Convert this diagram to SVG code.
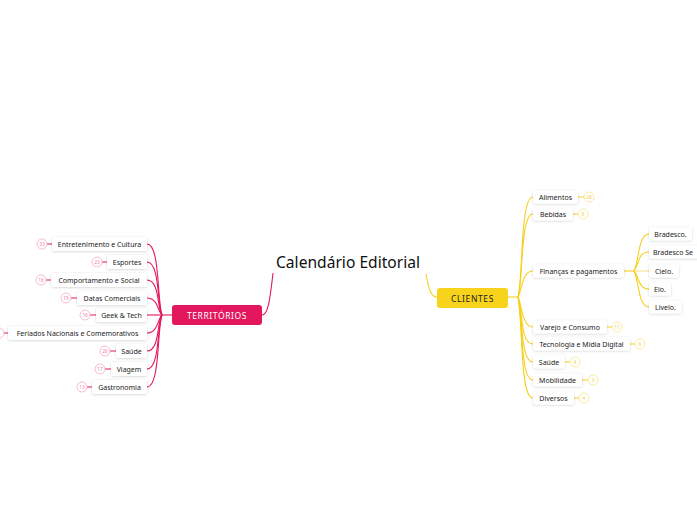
<svg xmlns="http://www.w3.org/2000/svg" width="697" height="520" viewBox="0 0 697 520">
<style>
.bg{fill:#ffffff}
.node rect{fill:#ffffff;filter:url(#sh)}
.lbl{font-family:"Noto Sans","Liberation Sans",sans-serif;font-size:7px;fill:#222;text-anchor:middle;dominant-baseline:central}
.pk{stroke:#e3175d;fill:none;stroke-width:1.1}
.yl{stroke:#f6cf1a;fill:none;stroke-width:1.1}
.bp{fill:#fff;stroke:#f7a9c4;stroke-width:0.8}
.by{fill:#fff;stroke:#fbe38a;stroke-width:0.8}
.nump{font-family:"Noto Sans","Liberation Sans",sans-serif;font-size:5px;fill:#f27fa7;text-anchor:middle;dominant-baseline:central}
.numy{font-family:"Noto Sans","Liberation Sans",sans-serif;font-size:5px;fill:#f3cf50;text-anchor:middle;dominant-baseline:central}
</style>
<defs>
<filter id="sh" x="-20%" y="-40%" width="140%" height="180%">
<feDropShadow dx="0" dy="0.6" stdDeviation="0.8" flood-color="#000" flood-opacity="0.18"/>
</filter>
</defs>
<rect class="bg" width="697" height="520"/>

<g id="connectors">
<path class="pk" d="M273,273 C270,300 268,315 262,315"/>
<path class="yl" d="M426,274 C429,290 431,297 437,297"/>
<path class="pk" d="M172,315 L162,315"/>
<path class="pk" d="M162,315 C157,300 160,244 147,244"/>
<path class="pk" d="M162,315 C157,305 160,262 147,262"/>
<path class="pk" d="M162,315 C157,310 160,280 147,280"/>
<path class="pk" d="M162,315 C158,312 158,298 147,298"/>
<path class="pk" d="M162,315 L147,315"/>
<path class="pk" d="M162,315 C158,318 158,333 147,333"/>
<path class="pk" d="M162,315 C157,320 160,351 147,351"/>
<path class="pk" d="M162,315 C157,325 160,369 147,369"/>
<path class="pk" d="M162,315 C157,330 160,387 147,387"/>
<path class="pk" d="M47,244 H52 M102,262 H107 M46,280 H51 M71,298 H77 M90,315 H96 M4,333 H8 M110,351 H116 M105,369 H111 M87,387 H92"/>

<path class="yl" d="M508,297 L518,297"/>
<path class="yl" d="M518,297 C523,280 520,197 533,197"/>
<path class="yl" d="M518,297 C523,285 520,214 533,214"/>
<path class="yl" d="M518,297 C522,290 522,271 533,271"/>
<path class="yl" d="M518,297 C522,305 522,327 533,327"/>
<path class="yl" d="M518,297 C523,310 520,344 533,344"/>
<path class="yl" d="M518,297 C523,315 520,362 533,362"/>
<path class="yl" d="M518,297 C523,320 520,380 533,380"/>
<path class="yl" d="M518,297 C523,325 520,398 533,398"/>
<path class="yl" d="M624,271 L634,271"/>
<path class="yl" d="M634,271 C639,262 638,234 649,234"/>
<path class="yl" d="M634,271 C639,264 638,252 649,252"/>
<path class="yl" d="M634,271 L649,271" style="stroke:#fbe38a"/>
<path class="yl" d="M634,271 C639,276 638,289 649,289"/>
<path class="yl" d="M634,271 C639,280 638,307 649,307"/>
<path class="yl" d="M578,197 H584 M573,214 H578 M607,327 H612 M630,344 H635 M565,362 H570 M582,380 H588 M574,398 H579"/>
</g>

<g id="title">
<text x="348" y="262" font-family="Noto Sans, Liberation Sans, sans-serif" font-size="16" fill="#111" text-anchor="middle" dominant-baseline="central" textLength="144" lengthAdjust="spacingAndGlyphs">Calendário Editorial</text>
</g>

<g id="territorios">
<rect x="172" y="305" width="90" height="20" rx="3" fill="#e3175d"/>
<text x="217" y="315.5" font-family="Noto Sans, Liberation Sans, sans-serif" font-size="8.5" fill="#fff" text-anchor="middle" dominant-baseline="central" letter-spacing="0.6">TERRITÓRIOS</text>
</g>

<g id="clientes">
<rect x="437" y="288" width="71" height="20" rx="3" fill="#f8d31c"/>
<text x="472.5" y="298" font-family="Noto Sans, Liberation Sans, sans-serif" font-size="8.5" fill="#222" text-anchor="middle" dominant-baseline="central" letter-spacing="0.6">CLIENTES</text>
</g>

<g id="entretenimento" class="node"><rect x="52" y="237" width="95" height="14" rx="2"/><text class="lbl" x="99.5" y="244">Entretenimento e Cultura</text><circle class="bp" cx="42" cy="244" r="5"/><text class="nump" x="42" y="244">33</text></g>
<g id="esportes" class="node"><rect x="107" y="255" width="40" height="14" rx="2"/><text class="lbl" x="127" y="262">Esportes</text><circle class="bp" cx="97" cy="262" r="5"/><text class="nump" x="97" y="262">23</text></g>
<g id="comportamento" class="node"><rect x="51" y="273" width="96" height="14" rx="2"/><text class="lbl" x="99" y="280">Comportamento e Social</text><circle class="bp" cx="41" cy="280" r="5"/><text class="nump" x="41" y="280">16</text></g>
<g id="datas" class="node"><rect x="77" y="291" width="70" height="14" rx="2"/><text class="lbl" x="112" y="298">Datas Comerciais</text><circle class="bp" cx="66" cy="298" r="5"/><text class="nump" x="66" y="298">15</text></g>
<g id="geek" class="node"><rect x="96" y="308" width="51" height="14" rx="2"/><text class="lbl" x="121.5" y="315">Geek &amp; Tech</text><circle class="bp" cx="85" cy="315" r="5"/><text class="nump" x="85" y="315">16</text></g>
<g id="feriados" class="node"><rect x="8" y="326" width="139" height="14" rx="2"/><text class="lbl" x="77.5" y="333">Feriados Nacionais e Comemorativos</text><circle class="bp" cx="-1" cy="333" r="5"/></g>
<g id="saude-t" class="node"><rect x="116" y="344" width="31" height="14" rx="2"/><text class="lbl" x="131.5" y="351">Saúde</text><circle class="bp" cx="105" cy="351" r="5"/><text class="nump" x="105" y="351">26</text></g>
<g id="viagem" class="node"><rect x="111" y="362" width="36" height="14" rx="2"/><text class="lbl" x="129" y="369">Viagem</text><circle class="bp" cx="100" cy="369" r="5"/><text class="nump" x="100" y="369">17</text></g>
<g id="gastronomia" class="node"><rect x="92" y="380" width="55" height="14" rx="2"/><text class="lbl" x="119.5" y="387">Gastronomia</text><circle class="bp" cx="82" cy="387" r="5"/><text class="nump" x="82" y="387">13</text></g>

<g id="alimentos" class="node"><rect x="533" y="190.5" width="45" height="13" rx="2"/><text class="lbl" x="555.5" y="197">Alimentos</text><circle class="by" cx="589" cy="197" r="5"/><text class="numy" x="589" y="197">28</text></g>
<g id="bebidas" class="node"><rect x="533" y="207.5" width="40" height="13" rx="2"/><text class="lbl" x="553" y="214">Bebidas</text><circle class="by" cx="583" cy="214" r="5"/><text class="numy" x="583" y="214">9</text></g>
<g id="financas" class="node"><rect x="533" y="264.5" width="91" height="13" rx="2"/><text class="lbl" x="578.5" y="271">Finanças e pagamentos</text></g>
<g id="bradesco" class="node"><rect x="649" y="227.5" width="43" height="13" rx="2"/><text class="lbl" x="670.5" y="234">Bradesco.</text></g>
<g id="bradesco-se" class="node"><rect x="649" y="245.5" width="60" height="13" rx="2"/><text class="lbl" x="653" y="252" style="text-anchor:start">Bradesco Se</text></g>
<g id="cielo" class="node"><rect x="649" y="264.5" width="30" height="13" rx="2"/><text class="lbl" x="664" y="271">Cielo.</text></g>
<g id="elo" class="node"><rect x="649" y="282.5" width="22" height="13" rx="2"/><text class="lbl" x="660" y="289">Elo.</text></g>
<g id="livelo" class="node"><rect x="649" y="300.5" width="33" height="13" rx="2"/><text class="lbl" x="665.5" y="307">Livelo.</text></g>
<g id="varejo" class="node"><rect x="533" y="320.5" width="74" height="13" rx="2"/><text class="lbl" x="570" y="327">Varejo e Consumo</text><circle class="by" cx="617" cy="327" r="5"/><text class="numy" x="617" y="327">11</text></g>
<g id="tecnologia" class="node"><rect x="533" y="337.5" width="97" height="13" rx="2"/><text class="lbl" x="581.5" y="344">Tecnologia e Mídia Digital</text><circle class="by" cx="640" cy="344" r="5"/><text class="numy" x="640" y="344">6</text></g>
<g id="saude-c" class="node"><rect x="533" y="355.5" width="32" height="13" rx="2"/><text class="lbl" x="549" y="362">Saúde</text><circle class="by" cx="575" cy="362" r="5"/><text class="numy" x="575" y="362">4</text></g>
<g id="mobilidade" class="node"><rect x="533" y="373.5" width="49" height="13" rx="2"/><text class="lbl" x="557.5" y="380">Mobilidade</text><circle class="by" cx="593" cy="380" r="5"/><text class="numy" x="593" y="380">3</text></g>
<g id="diversos" class="node"><rect x="533" y="391.5" width="41" height="13" rx="2"/><text class="lbl" x="553.5" y="398">Diversos</text><circle class="by" cx="584" cy="398" r="5"/><text class="numy" x="584" y="398">4</text></g>
</svg>
